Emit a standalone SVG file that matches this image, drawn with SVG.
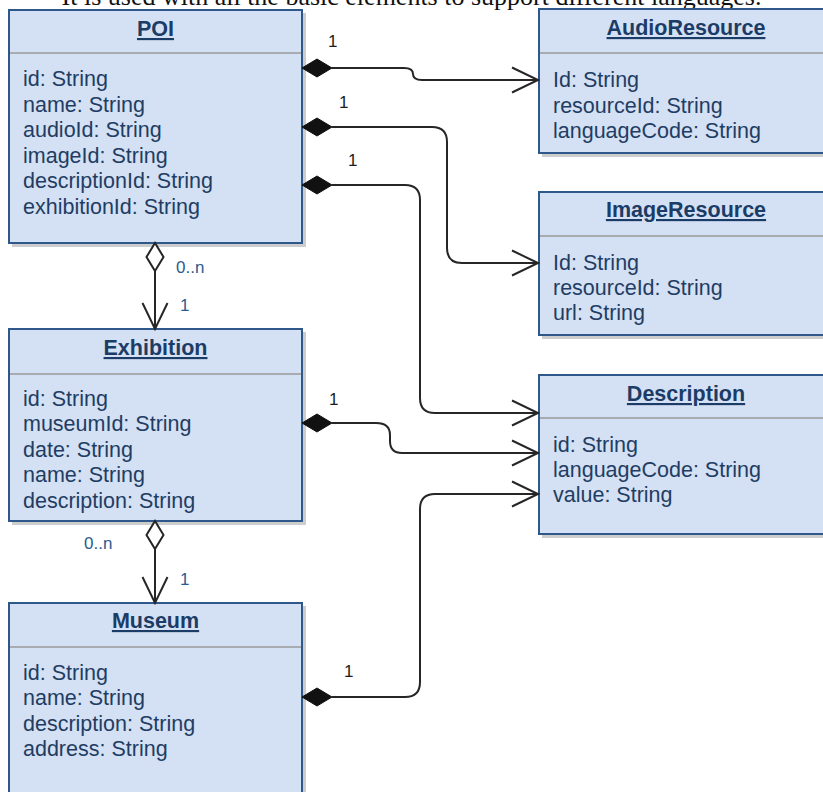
<svg xmlns="http://www.w3.org/2000/svg" width="823" height="792" viewBox="0 0 823 792">
  <style>
    .shadow { fill: #bcbcbc; opacity: 0.75; }
    .box { fill: #d4e0f3; stroke: #2d5889; stroke-width: 2; }
    .div { stroke: #a8abb0; stroke-width: 2; }
    .title { font-family: "Liberation Sans", Arial, sans-serif; font-size: 21.5px; font-weight: bold; fill: #1b3c66; text-anchor: middle; text-decoration: underline; }
    .attr { font-family: "Liberation Sans", Arial, sans-serif; font-size: 21.5px; fill: #1f3d63; }
    .edge { fill: none; stroke: #262626; stroke-width: 2; }
    .mult { font-family: "Liberation Sans", Arial, sans-serif; font-size: 17px; fill: #1e1e1e; }
    .multb { font-family: "Liberation Sans", Arial, sans-serif; font-size: 17px; fill: #2b5a8f; }
    .caption { font-family: "Liberation Serif", "Times New Roman", serif; font-size: 26px; fill: #111; text-anchor: middle; }
  </style>
  <defs>
    <marker id="open" markerUnits="userSpaceOnUse" orient="auto" refX="0" refY="0" markerWidth="30" markerHeight="30" overflow="visible">
      <path d="M-26,-12.5 L0,0 L-26,12.5" fill="none" stroke="#262626" stroke-width="2"/>
    </marker>
    <marker id="compo" markerUnits="userSpaceOnUse" orient="auto" refX="0" refY="0" markerWidth="32" markerHeight="20" overflow="visible">
      <path d="M0,0 L-15,-9 L-30,0 L-15,9 Z" fill="#111" stroke="#111" stroke-width="1"/>
    </marker>
    <marker id="aggr" markerUnits="userSpaceOnUse" orient="auto" refX="0" refY="0" markerWidth="32" markerHeight="20" overflow="visible">
      <path d="M0,0 L-14,-8.5 L-28,0 L-14,8.5 Z" fill="#ffffff" stroke="#262626" stroke-width="2"/>
    </marker>
  </defs>

  <rect width="823" height="792" fill="#ffffff"/>

  <text class="caption" x="411.5" y="5">It is used with all the basic elements to support different languages.</text>

  <!-- classes -->
  <g id="poi">
    <rect class="shadow" x="12" y="13" width="294" height="234"/>
    <rect class="box" x="9" y="10" width="293" height="233"/>
    <line class="div" x1="10" y1="53" x2="301" y2="53"/>
    <text class="title" x="155.5" y="36">POI</text>
    <text class="attr" x="23" y="86">id: String</text>
    <text class="attr" x="23" y="111.5">name: String</text>
    <text class="attr" x="23" y="137">audioId: String</text>
    <text class="attr" x="23" y="162.5">imageId: String</text>
    <text class="attr" x="23" y="188">descriptionId: String</text>
    <text class="attr" x="23" y="213.5">exhibitionId: String</text>
  </g>

  <g id="audio-resource">
    <rect class="shadow" x="542" y="12" width="294" height="145"/>
    <rect class="box" x="539" y="9" width="294" height="144"/>
    <line class="div" x1="540" y1="53" x2="833" y2="53"/>
    <text class="title" x="686" y="35">AudioResource</text>
    <text class="attr" x="553" y="87">Id: String</text>
    <text class="attr" x="553" y="112.5">resourceId: String</text>
    <text class="attr" x="553" y="137.5">languageCode: String</text>
  </g>

  <g id="image-resource">
    <rect class="shadow" x="542" y="195" width="294" height="144"/>
    <rect class="box" x="539" y="192" width="294" height="143"/>
    <line class="div" x1="540" y1="236" x2="833" y2="236"/>
    <text class="title" x="686" y="217">ImageResource</text>
    <text class="attr" x="553" y="269.5">Id: String</text>
    <text class="attr" x="553" y="295">resourceId: String</text>
    <text class="attr" x="553" y="320">url: String</text>
  </g>

  <g id="description">
    <rect class="shadow" x="542" y="378" width="294" height="160"/>
    <rect class="box" x="539" y="375" width="294" height="159"/>
    <line class="div" x1="540" y1="418" x2="833" y2="418"/>
    <text class="title" x="686" y="401">Description</text>
    <text class="attr" x="553" y="451.5">id: String</text>
    <text class="attr" x="553" y="476.5">languageCode: String</text>
    <text class="attr" x="553" y="501.5">value: String</text>
  </g>

  <g id="exhibition">
    <rect class="shadow" x="12" y="332" width="294" height="193"/>
    <rect class="box" x="9" y="329" width="293" height="192"/>
    <line class="div" x1="10" y1="374" x2="301" y2="374"/>
    <text class="title" x="155.5" y="355">Exhibition</text>
    <text class="attr" x="23" y="405.5">id: String</text>
    <text class="attr" x="23" y="431">museumId: String</text>
    <text class="attr" x="23" y="456.5">date: String</text>
    <text class="attr" x="23" y="482">name: String</text>
    <text class="attr" x="23" y="507.5">description: String</text>
  </g>

  <g id="museum">
    <rect class="shadow" x="12" y="606" width="294" height="200"/>
    <rect class="box" x="9" y="603" width="293" height="200"/>
    <line class="div" x1="10" y1="647" x2="301" y2="647"/>
    <text class="title" x="155.5" y="628">Museum</text>
    <text class="attr" x="23" y="680">id: String</text>
    <text class="attr" x="23" y="705">name: String</text>
    <text class="attr" x="23" y="730.5">description: String</text>
    <text class="attr" x="23" y="756">address: String</text>
  </g>

  <!-- associations -->
  <g id="connectors">
    <path class="edge" marker-start="url(#compo)" marker-end="url(#open)" d="M332,68 H404 Q413,68 413,74 Q413,80 422,80 H538"/>
    <path class="edge" marker-start="url(#compo)" marker-end="url(#open)" d="M332,127 H432 Q447,127 447,142 V248 Q447,263 462,263 H538"/>
    <path class="edge" marker-start="url(#compo)" marker-end="url(#open)" d="M332,185 H405 Q420,185 420,200 V398 Q420,413 435,413 H538"/>
    <path class="edge" marker-start="url(#compo)" marker-end="url(#open)" d="M332,423 H376 Q390,423 390,435 V441 Q390,453 402,453 H538"/>
    <path class="edge" marker-start="url(#compo)" marker-end="url(#open)" d="M332,697 H405 Q420,697 420,682 V509 Q420,494 435,494 H538"/>
    <path class="edge" marker-start="url(#aggr)" marker-end="url(#open)" d="M155,271 V329"/>
    <path class="edge" marker-start="url(#aggr)" marker-end="url(#open)" d="M155,549 V603"/>

    <text class="mult" x="328" y="47">1</text>
    <text class="mult" x="339" y="108">1</text>
    <text class="mult" x="348" y="166">1</text>
    <text class="mult" x="329" y="405">1</text>
    <text class="mult" x="344" y="677">1</text>
    <text class="multb" x="176" y="273">0..n</text>
    <text class="multb" x="180" y="311">1</text>
    <text class="multb" x="84" y="549">0..n</text>
    <text class="multb" x="180" y="585">1</text>
  </g>
</svg>
